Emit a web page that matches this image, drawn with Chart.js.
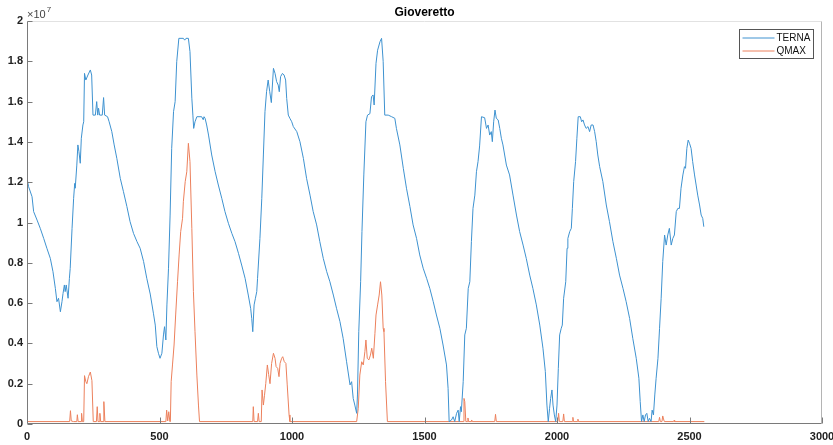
<!DOCTYPE html>
<html>
<head>
<meta charset="utf-8">
<title>Gioveretto</title>
<script src="https://cdn.jsdelivr.net/npm/chart.js@4.4.0/dist/chart.umd.min.js"></script>
<style>
    html, body { margin: 0; padding: 0; background: #fff; }
    #wrap { width: 833px; height: 445px; }
</style>
</head>
<body>
<div id="wrap"><canvas id="graf" width="833" height="445"></canvas></div>
<script>
// Hodnoty jsou v jednotkách 10^7 (osa Y má exponent x10^7)
const ternaX = [0, 6, 19, 25, 38, 50, 63, 75, 88, 98, 107, 113, 119, 126, 132, 136, 141, 144, 148, 155,
    160, 163, 170, 176, 180, 182, 188, 192, 196, 201, 205, 211, 214, 217, 222, 230, 239, 244, 249, 258,
    263, 267, 270, 274, 284, 289, 293, 304, 310, 320, 329, 339, 352, 364, 377, 389, 402, 415, 427, 440,
    452, 465, 477, 484, 490, 496, 502, 509, 515, 519, 524, 528, 534, 540, 546, 553, 559, 565, 573, 590,
    595, 600, 609, 615, 622, 626, 629, 634, 641, 659, 665, 668, 672, 678, 685, 697, 710, 722, 735, 747,
    760, 773, 785, 798, 810, 823, 835, 844, 848, 852, 857, 862, 867, 870, 879, 886, 892, 898, 904, 910,
    916, 922, 930, 936, 942, 948, 952, 957, 964, 970, 976, 980, 986, 992, 999, 1005, 1018, 1030, 1043, 1055,
    1068, 1080, 1093, 1105, 1118, 1131, 1143, 1156, 1168, 1181, 1193, 1206, 1219, 1225, 1231, 1237, 1244, 1247, 1252, 1259,
    1264, 1271, 1279, 1285, 1294, 1300, 1306, 1310, 1317, 1323, 1332, 1338, 1344, 1350, 1363, 1376, 1388, 1394, 1407, 1420,
    1432, 1445, 1457, 1470, 1482, 1495, 1508, 1520, 1533, 1545, 1558, 1570, 1583, 1589, 1593, 1602, 1608, 1614, 1621, 1627,
    1631, 1636, 1639, 1646, 1652, 1658, 1665, 1671, 1677, 1683, 1690, 1696, 1702, 1708, 1715, 1727, 1734, 1740, 1746, 1752,
    1756, 1761, 1766, 1771, 1778, 1784, 1790, 1796, 1809, 1821, 1834, 1847, 1859, 1872, 1884, 1897, 1909, 1922, 1935, 1947,
    1956, 1962, 1967, 1972, 1976, 1981, 1985, 1990, 1995, 2000, 2005, 2010, 2016, 2020, 2025, 2033, 2038, 2041, 2048, 2054,
    2058, 2063, 2070, 2075, 2080, 2088, 2093, 2098, 2104, 2110, 2117, 2123, 2129, 2136, 2142, 2148, 2154, 2161, 2173, 2186,
    2198, 2211, 2224, 2236, 2249, 2261, 2274, 2286, 2299, 2309, 2314, 2319, 2324, 2329, 2334, 2339, 2344, 2349, 2355, 2359,
    2364, 2369, 2374, 2381, 2387, 2393, 2399, 2406, 2412, 2418, 2424, 2431, 2437, 2443, 2450, 2456, 2462, 2468, 2475, 2481,
    2485, 2490, 2495, 2500, 2506, 2512, 2519, 2525, 2531, 2538, 2544, 2550, 2554];
const ternaY = [1.219, 1.178, 1.128, 1.054, 1.012, 0.971, 0.921, 0.872, 0.822, 0.756, 0.673, 0.607, 0.624, 0.557, 0.607, 0.648, 0.690, 0.657, 0.690, 0.624,
    0.723, 0.772, 0.971, 1.120, 1.194, 1.170, 1.285, 1.385, 1.352, 1.294, 1.418, 1.484, 1.500, 1.740, 1.707, 1.732, 1.757, 1.732, 1.533, 1.533,
    1.600, 1.533, 1.567, 1.533, 1.533, 1.620, 1.533, 1.525, 1.500, 1.451, 1.385, 1.318, 1.219, 1.153, 1.079, 1.004, 0.946, 0.905, 0.872, 0.806,
    0.723, 0.645, 0.550, 0.491, 0.384, 0.351, 0.326, 0.351, 0.442, 0.483, 0.417, 0.591, 0.773, 1.037, 1.368, 1.550, 1.600, 1.798, 1.914, 1.914,
    1.905, 1.914, 1.914, 1.848, 1.617, 1.533, 1.467, 1.500, 1.525, 1.525, 1.510, 1.525, 1.517, 1.484, 1.434, 1.335, 1.252, 1.186, 1.120, 1.054,
    0.996, 0.946, 0.905, 0.847, 0.789, 0.723, 0.640, 0.574, 0.524, 0.458, 0.591, 0.624, 0.657, 0.723, 0.921, 1.120, 1.335, 1.550, 1.649, 1.707,
    1.649, 1.595, 1.765, 1.740, 1.699, 1.682, 1.649, 1.724, 1.740, 1.732, 1.707, 1.616, 1.533, 1.517, 1.500, 1.476, 1.451, 1.401, 1.318, 1.219,
    1.136, 1.054, 0.988, 0.905, 0.822, 0.756, 0.706, 0.640, 0.574, 0.508, 0.425, 0.309, 0.194, 0.210, 0.127, 0.094, 0.053, 0.144, 0.458, 0.706,
    0.955, 1.236, 1.500, 1.533, 1.540, 1.624, 1.633, 1.583, 1.790, 1.855, 1.897, 1.914, 1.800, 1.533, 1.533, 1.525, 1.517, 1.467, 1.385, 1.269,
    1.170, 1.079, 0.988, 0.921, 0.839, 0.773, 0.723, 0.673, 0.607, 0.541, 0.475, 0.392, 0.293, 0.177, 0.012, 0.020, 0.036, 0.012, 0.053, 0.069,
    0.012, 0.086, 0.061, 0.210, 0.442, 0.475, 0.673, 0.706, 0.905, 1.070, 1.136, 1.252, 1.302, 1.380, 1.525, 1.520, 1.467, 1.484, 1.434, 1.451,
    1.401, 1.500, 1.558, 1.517, 1.509, 1.467, 1.418, 1.385, 1.285, 1.236, 1.136, 1.037, 0.955, 0.888, 0.822, 0.739, 0.673, 0.591, 0.491, 0.376,
    0.260, 0.094, 0.012, 0.078, 0.127, 0.169, 0.094, 0.045, 0.012, 0.094, 0.276, 0.442, 0.475, 0.491, 0.624, 0.706, 0.872, 0.921, 0.955, 0.971,
    1.070, 1.203, 1.302, 1.418, 1.525, 1.525, 1.500, 1.509, 1.484, 1.467, 1.476, 1.451, 1.484, 1.484, 1.451, 1.401, 1.335, 1.277, 1.203, 1.087,
    1.004, 0.905, 0.822, 0.739, 0.673, 0.607, 0.524, 0.425, 0.326, 0.227, 0.111, 0.012, 0.045, 0.012, 0.045, 0.053, 0.012, 0.028, 0.012, 0.069,
    0.045, 0.144, 0.227, 0.326, 0.475, 0.624, 0.806, 0.938, 0.888, 0.938, 0.971, 0.888, 0.921, 0.938, 1.054, 1.070, 1.070, 1.170, 1.236, 1.277,
    1.269, 1.368, 1.409, 1.393, 1.368, 1.302, 1.236, 1.186, 1.136, 1.087, 1.037, 1.020, 0.979];

const qmaxX = [0, 161, 164, 167, 176, 188, 190, 193, 204, 206, 209, 214, 217, 222, 226, 232, 239, 245, 250, 262,
    265, 268, 272, 275, 278, 287, 290, 294, 524, 527, 531, 535, 539, 541, 544, 549, 555, 561, 568, 574,
    580, 587, 590, 597, 603, 609, 615, 622, 628, 634, 641, 647, 651, 852, 854, 857, 870, 873, 876, 884,
    887, 892, 896, 901, 907, 912, 917, 923, 930, 936, 940, 946, 951, 955, 961, 965, 971, 977, 982, 989,
    992, 1244, 1250, 1256, 1263, 1269, 1275, 1279, 1284, 1290, 1296, 1301, 1307, 1313, 1317, 1323, 1329, 1334, 1339, 1344,
    1347, 1353, 1360, 1646, 1649, 1652, 1656, 1662, 1664, 1666, 1676, 1678, 1680, 1765, 1768, 1771, 2003, 2006, 2009, 2022,
    2025, 2028, 2058, 2060, 2062, 2077, 2079, 2081, 2384, 2387, 2390, 2396, 2399, 2402, 2405, 2440, 2442, 2444, 2556];
const qmaxY = [0.012, 0.012, 0.066, 0.015, 0.012, 0.012, 0.046, 0.012, 0.012, 0.053, 0.012, 0.012, 0.240, 0.210, 0.200, 0.235, 0.258, 0.215, 0.012, 0.012,
    0.086, 0.012, 0.012, 0.053, 0.012, 0.012, 0.111, 0.012, 0.012, 0.069, 0.015, 0.061, 0.012, 0.012, 0.210, 0.293, 0.392, 0.541, 0.706, 0.839,
    0.955, 1.021, 1.103, 1.203, 1.252, 1.393, 1.302, 0.971, 0.657, 0.458, 0.243, 0.094, 0.012, 0.012, 0.086, 0.012, 0.012, 0.053, 0.012, 0.012,
    0.169, 0.094, 0.140, 0.200, 0.293, 0.245, 0.200, 0.300, 0.351, 0.326, 0.285, 0.276, 0.235, 0.301, 0.326, 0.334, 0.309, 0.301, 0.194, 0.045,
    0.012, 0.012, 0.078, 0.243, 0.309, 0.293, 0.359, 0.417, 0.326, 0.318, 0.342, 0.376, 0.326, 0.450, 0.541, 0.591, 0.640, 0.706, 0.640, 0.475,
    0.458, 0.210, 0.012, 0.012, 0.127, 0.111, 0.012, 0.012, 0.030, 0.012, 0.012, 0.020, 0.012, 0.012, 0.048, 0.012, 0.012, 0.053, 0.012, 0.012,
    0.050, 0.012, 0.012, 0.033, 0.012, 0.012, 0.024, 0.012, 0.012, 0.033, 0.012, 0.012, 0.040, 0.025, 0.012, 0.012, 0.018, 0.012, 0.012];

const xTicks = [0, 500, 1000, 1500, 2000, 2500, 3000];
const yTicks = [0, 0.2, 0.4, 0.6, 0.8, 1, 1.2, 1.4, 1.6, 1.8, 2];
const yTickLabels = ['0', '0.2', '0.4', '0.6', '0.8', '1', '1.2', '1.4', '1.6', '1.8', '2'];

const nazevGrafu = 'Gioveretto';
const exponent = '7';

const pismo = '"Liberation Sans", Arial, Helvetica, sans-serif';

// Rámeček os, značky ticků, titulek, exponent a legenda
const ramecekPlugin = {
    id: 'ramecek',
    afterDraw(chart) {
        const ctx = chart.ctx;
        const a = chart.chartArea;
        const xs = chart.scales.x;
        const ys = chart.scales.y;
        const L = Math.round(a.left) + 0.5;
        const R = Math.round(a.right) - 0.5;
        const T = Math.round(a.top) + 0.5;
        const B = Math.round(a.bottom) - 0.5;

        ctx.save();
        ctx.lineWidth = 1;

        // horní a pravá hrana
        ctx.strokeStyle = '#e2e2e2';
        ctx.beginPath();
        ctx.moveTo(L, T);
        ctx.lineTo(R, T);
        ctx.stroke();
        ctx.strokeStyle = '#b4b4b4';
        ctx.beginPath();
        ctx.moveTo(R, T);
        ctx.lineTo(R, B);
        ctx.stroke();

        // levá a spodní osa
        ctx.strokeStyle = '#7a7a7a';
        ctx.beginPath();
        ctx.moveTo(L, T);
        ctx.lineTo(L, B);
        ctx.lineTo(R, B);
        ctx.stroke();

        // ticky dovnitř grafu
        ctx.beginPath();
        yTicks.forEach(v => {
            const py = Math.round(ys.getPixelForValue(v)) + 0.5;
            ctx.moveTo(L, py);
            ctx.lineTo(L + 5, py);
        });
        xTicks.forEach(v => {
            const px = Math.round(xs.getPixelForValue(v)) + 0.5;
            ctx.moveTo(px, B);
            ctx.lineTo(px, B - 6);
        });
        ctx.stroke();

        // titulek
        ctx.fillStyle = '#000';
        ctx.font = 'bold 12px ' + pismo;
        ctx.textAlign = 'center';
        ctx.textBaseline = 'middle';
        ctx.fillText(nazevGrafu, (a.left + a.right) / 2, 13);

        // exponent osy Y
        ctx.fillStyle = '#444';
        ctx.textAlign = 'left';
        ctx.textBaseline = 'alphabetic';
        ctx.font = '11px ' + pismo;
        ctx.fillText('\u00d710', a.left, 18);
        const w = ctx.measureText('\u00d710').width;
        ctx.font = '8px ' + pismo;
        ctx.fillText(exponent, a.left + w + 1, 12);

        // legenda
        const lx = 739.5, ly = 29.5, lw = 74, lh = 29;
        ctx.fillStyle = '#fff';
        ctx.fillRect(lx, ly, lw, lh);
        ctx.strokeStyle = '#555';
        ctx.strokeRect(lx, ly, lw, lh);
        ctx.font = '10px ' + pismo;
        ctx.textBaseline = 'middle';
        chart.data.datasets.forEach((ds, i) => {
            const yy = ly + 8.5 + i * 13;
            ctx.strokeStyle = ds.borderColor;
            ctx.beginPath();
            ctx.moveTo(lx + 3, yy);
            ctx.lineTo(lx + 35, yy);
            ctx.stroke();
            ctx.fillStyle = '#111';
            ctx.fillText(ds.label, lx + 37, yy + 0.5);
        });
        ctx.restore();
    }
};

const ctx = document.getElementById('graf').getContext('2d');
new Chart(ctx, {
    type: 'line',
    data: {
        datasets: [
            {
                label: 'TERNA',
                data: ternaX.map((x, i) => ({ x: x, y: ternaY[i] })),
                borderColor: 'rgb(62, 146, 208)',
                borderWidth: 1,
                pointRadius: 0,
                tension: 0,
                fill: false
            },
            {
                label: 'QMAX',
                data: qmaxX.map((x, i) => ({ x: x, y: qmaxY[i] })),
                borderColor: 'rgb(236, 128, 92)',
                borderWidth: 1,
                pointRadius: 0,
                tension: 0,
                fill: false
            }
        ]
    },
    options: {
        responsive: false,
        animation: false,
        layout: { padding: { top: 21, right: 11, left: 0, bottom: 0 } },
        plugins: {
            legend: { display: false },
            title: { display: false },
            tooltip: { enabled: false }
        },
        scales: {
            x: {
                type: 'linear',
                min: 0,
                max: 3000,
                grid: { display: false, drawTicks: false },
                border: { display: false },
                afterBuildTicks: s => { s.ticks = xTicks.map(v => ({ value: v })); },
                afterFit: s => { s.height = 21; s.paddingLeft = 0; s.paddingRight = 0; },
                ticks: {
                    padding: 6,
                    maxRotation: 0,
                    color: '#222',
                    font: { family: pismo, size: 11, weight: 'bold' },
                    callback: v => String(v)
                }
            },
            y: {
                type: 'linear',
                min: 0,
                max: 2,
                grid: { display: false, drawTicks: false },
                border: { display: false },
                afterBuildTicks: s => { s.ticks = yTicks.map(v => ({ value: v })); },
                afterFit: s => { s.width = 27; s.paddingTop = 0; s.paddingBottom = 0; },
                ticks: {
                    padding: 4,
                    color: '#222',
                    font: { family: pismo, size: 11, weight: 'bold' },
                    callback: (v, i) => yTickLabels[i]
                }
            }
        }
    },
    plugins: [ramecekPlugin]
});
</script>
</body>
</html>
